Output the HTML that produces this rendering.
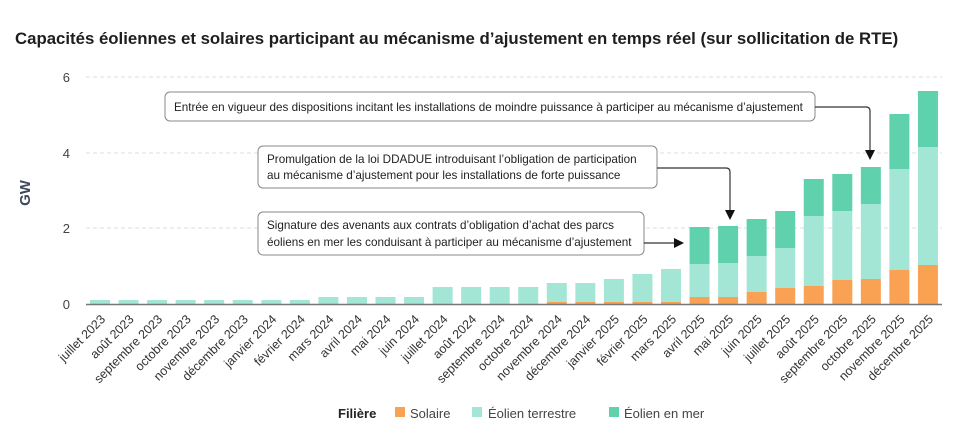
<!DOCTYPE html>
<html><head><meta charset="utf-8"><style>
body{margin:0;background:#fff;}
svg{display:block;font-family:"Liberation Sans",sans-serif;}
</style></head><body>
<svg width="960" height="439" viewBox="0 0 960 439" xmlns="http://www.w3.org/2000/svg">
<text x="15" y="44" font-size="16.8" font-weight="bold" fill="#1e1e1e">Capacités éoliennes et solaires participant au mécanisme d’ajustement en temps réel (sur sollicitation de RTE)</text>
<text transform="translate(30,193) rotate(-90)" text-anchor="middle" font-size="15" font-weight="bold" fill="#3d4a5c">GW</text>
<g stroke="#ddd" stroke-dasharray="4,3">
<line x1="86" x2="942" y1="77" y2="77"/><line x1="86" x2="942" y1="153" y2="153"/><line x1="86" x2="942" y1="228" y2="228"/>
</g>
<g font-size="13" fill="#444" text-anchor="end">
<text x="70" y="82">6</text><text x="70" y="158">4</text><text x="70" y="233">2</text><text x="70" y="309">0</text>
</g>
<g id="bars"></g>
<line x1="86" x2="942" y1="304.5" y2="304.5" stroke="#777" stroke-width="1.5"/>
<g id="labels" font-size="12.5" fill="#333" text-anchor="end"></g>
<g font-size="11.7" fill="#222">
<rect x="165" y="92" width="650" height="29" rx="5" fill="#fff" stroke="#888"/>
<text x="174" y="111">Entrée en vigueur des dispositions incitant les installations de moindre puissance à participer au mécanisme d’ajustement</text>
<rect x="258" y="146" width="399" height="42" rx="5" fill="#fff" stroke="#888"/>
<text x="267" y="163">Promulgation de la loi DDADUE introduisant l’obligation de participation</text>
<text x="267" y="179">au mécanisme d’ajustement pour les installations de forte puissance</text>
<rect x="258" y="212" width="386" height="43" rx="5" fill="#fff" stroke="#888"/>
<text x="267" y="229">Signature des avenants aux contrats d’obligation d’achat des parcs</text>
<text x="267" y="246">éoliens en mer les conduisant à participer au mécanisme d’ajustement</text>
</g>
<g fill="none" stroke="#333" stroke-width="1.2">
<path d="M815 107 H866 Q870 107 870 111 V152"/>
<path d="M657 168 H726 Q730 168 730 172 V212"/>
<path d="M644 243 H676"/>
</g>
<g fill="#111">
<path d="M865 150 L875 150 L870 160 Z"/>
<path d="M725 210 L735 210 L730 220 Z"/>
<path d="M674 238 L684 243 L674 248 Z"/>
</g>
<text x="338" y="418" font-size="13" font-weight="bold" fill="#222">Filière</text>
<rect x="395" y="407" width="10" height="10" fill="#f9a253"/><text x="410" y="418" font-size="13" fill="#444">Solaire</text>
<rect x="472" y="407" width="10" height="10" fill="#a3e6d6"/><text x="488" y="418" font-size="13" fill="#444">Éolien terrestre</text>
<rect x="609" y="407" width="10" height="10" fill="#5fd1ac"/><text x="624" y="418" font-size="13" fill="#444">Éolien en mer</text>
<script>
var months=["juillet 2023","août 2023","septembre 2023","octobre 2023","novembre 2023","décembre 2023","janvier 2024","février 2024","mars 2024","avril 2024","mai 2024","juin 2024","juillet 2024","août 2024","septembre 2024","octobre 2024","novembre 2024","décembre 2024","janvier 2025","février 2025","mars 2025","avril 2025","mai 2025","juin 2025","juillet 2025","août 2025","septembre 2025","octobre 2025","novembre 2025","décembre 2025"];
var d=[[304,300,300],[304,300,300],[304,300,300],[304,300,300],[304,300,300],[304,300,300],[304,300,300],[304,300,300],[304,297,297],[304,297,297],[304,297,297],[304,297,297],[304,287,287],[304,287,287],[304,287,287],[304,287,287],[302,283,283],[302,283,283],[302,279,279],[302,274,274],[302,269,269],[297,264,227],[297,263,226],[292,256,219],[288,248,211],[286,216,179],[280,211,174],[279,204,167],[270,169,114],[265,147,91]];
var ns="http://www.w3.org/2000/svg",b=document.getElementById("bars"),l=document.getElementById("labels");
function r(x,y,h,c){if(h<=0)return;var e=document.createElementNS(ns,"rect");e.setAttribute("x",x);e.setAttribute("y",y);e.setAttribute("width",20);e.setAttribute("height",h);e.setAttribute("fill",c);b.appendChild(e);}
for(var i=0;i<30;i++){var cx=100+28.55*i,x=cx-10,v=d[i];
r(x,v[0],304-v[0],"#f9a253");r(x,v[1],v[0]-v[1],"#a3e6d6");r(x,v[2],v[1]-v[2],"#5fd1ac");
var t=document.createElementNS(ns,"text");t.setAttribute("transform","translate("+(cx+6)+",320) rotate(-45)");t.textContent=months[i];l.appendChild(t);}
</script>
</svg>
</body></html>
